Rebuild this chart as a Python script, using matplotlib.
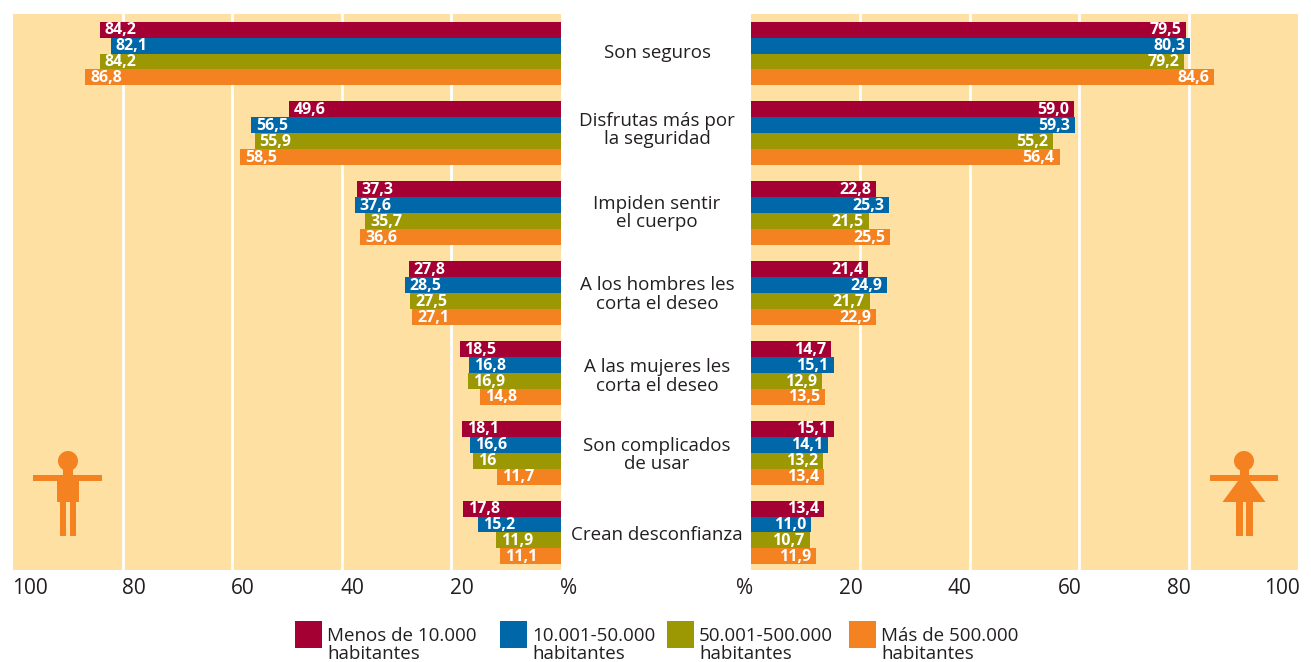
import matplotlib
matplotlib.use('Agg')
import matplotlib.pyplot as plt
from matplotlib.patches import Circle, Polygon, Rectangle
from matplotlib.transforms import ScaledTranslation

# Data (labels kept as printed, "16" has no decimal in the original)
categories = ['Son seguros', 'Disfrutas más por\nla seguridad', 'Impiden sentir\nel cuerpo',
              'A los hombres les\ncorta el deseo', 'A las mujeres les\ncorta el deseo',
              'Son complicados\nde usar', 'Crean desconfianza']
series_names = ['Menos de 10.000\nhabitantes', '10.001-50.000\nhabitantes',
                '50.001-500.000\nhabitantes', 'Más de 500.000\nhabitantes']
colors = ['#A50034', '#0067A9', '#9B9803', '#F58220']

men_small = ['84,2', '49,6', '37,3', '27,8', '18,5', '18,1', '17,8']
men_mid = ['82,1', '56,5', '37,6', '28,5', '16,8', '16,6', '15,2']
men_large = ['84,2', '55,9', '35,7', '27,5', '16,9', '16', '11,9']
men_city = ['86,8', '58,5', '36,6', '27,1', '14,8', '11,7', '11,1']

women_small = ['79,5', '59,0', '22,8', '21,4', '14,7', '15,1', '13,4']
women_mid = ['80,3', '59,3', '25,3', '24,9', '15,1', '14,1', '11,0']
women_large = ['79,2', '55,2', '21,5', '21,7', '12,9', '13,2', '10,7']
women_city = ['84,6', '56,4', '25,5', '22,9', '13,5', '13,4', '11,9']

men = [men_small, men_mid, men_large, men_city]
women = [women_small, women_mid, women_large, women_city]

BG = '#FEE0A3'
TEXT = '#231F20'
W, H = 1311, 662
plt.rcParams['font.family'] = ['Open Sans', 'DejaVu Sans']

fig = plt.figure(figsize=(W / 100, H / 100), dpi=100)


def axes_px(x0, x1, y0, y1):
    return fig.add_axes([x0 / W, 1 - y1 / H, (x1 - x0) / W, (y1 - y0) / H])


ax_l = axes_px(13, 561, 14, 570)
ax_r = axes_px(751, 1298, 14, 570)
bar_h = 0.2


def draw_side(ax, rows, left_side):
    ax.set_facecolor(BG)
    ax.set_xlim(100, 0) if left_side else ax.set_xlim(0, 100)
    ax.set_ylim(6.47, -0.495)
    for s in ax.spines.values():
        s.set_visible(False)
    ax.set_xticks([0, 20, 40, 60, 80, 100])
    ax.set_xticklabels(['%', '20', '40', '60', '80', '100'])
    ax.set_yticks([])
    ax.tick_params(axis='x', length=0, pad=5.5, labelsize=15, labelcolor=TEXT)
    shift = ScaledTranslation(-1 / 100 if left_side else 2 / 100, 0, fig.dpi_scale_trans)
    for lab in ax.get_xticklabels():
        lab.set_ha('left' if left_side else 'right')
        lab.set_transform(lab.get_transform() + shift)
    for v in [20, 40, 60, 80]:
        ax.axvline(v, color='white', lw=2, zorder=1)
    for j, row in enumerate(rows):
        for i, txt in enumerate(row):
            val = float(txt.replace(',', '.'))
            y = i + (j - 1.5) * bar_h
            ax.barh(y, val, height=bar_h, color=colors[j], zorder=2)
            ax.annotate(txt, xy=(val, y), xytext=(3.5 if left_side else -3.5, -0.5),
                        textcoords='offset points', ha='left' if left_side else 'right',
                        va='center', color='white', fontsize=11.5, fontweight='bold', zorder=3)


draw_side(ax_l, men, True)
draw_side(ax_r, women, False)

# Category names in the white gap between both panels, nudged a bit by hand (px, up is +)
label_nudge = [3, 5.5, 2, 0.5, -1.5, 0, 0]
for i, name in enumerate(categories):
    ax_l.annotate(name, xy=(0, i), xytext=(96 * 0.72, -1.5 + label_nudge[i] * 0.72),
                  textcoords='offset points', ha='center', va='center', fontsize=13.5,
                  color=TEXT, linespacing=1.02, annotation_clip=False)

# Overlay in pixel coordinates for icons and legend
over = fig.add_axes([0, 0, 1, 1], facecolor='none')
over.set_xlim(0, W)
over.set_ylim(H, 0)
over.axis('off')
ICON = '#F58220'


def rect(x0, y0, x1, y1, c=ICON):
    over.add_patch(Rectangle((x0, y0), x1 - x0, y1 - y0, color=c, lw=0))


# man
over.add_patch(Circle((68, 461), 10, color=ICON, lw=0))
rect(63, 468, 73, 476)
rect(33, 475, 102, 481)
rect(57, 481, 79, 502)
rect(60, 502, 66, 536)
rect(70, 502, 76, 536)
# woman
over.add_patch(Circle((1244, 461), 10, color=ICON, lw=0))
rect(1240, 468, 1249, 476)
rect(1210, 475, 1278, 481)
over.add_patch(Polygon([(1238, 481), (1250, 481), (1265.5, 502), (1222.5, 502)], color=ICON, lw=0))
rect(1236, 502, 1242.5, 536)
rect(1246, 502, 1253, 536)

# Legend
swatch_x = [295, 500, 667, 849]
for x, name, c in zip(swatch_x, series_names, colors):
    rect(x, 621, x + 27, 648, c)
    over.text(x + 32, 645, name, ha='left', va='center', fontsize=13.5, color=TEXT, linespacing=1.0)

fig.savefig('out.png', dpi=100)
